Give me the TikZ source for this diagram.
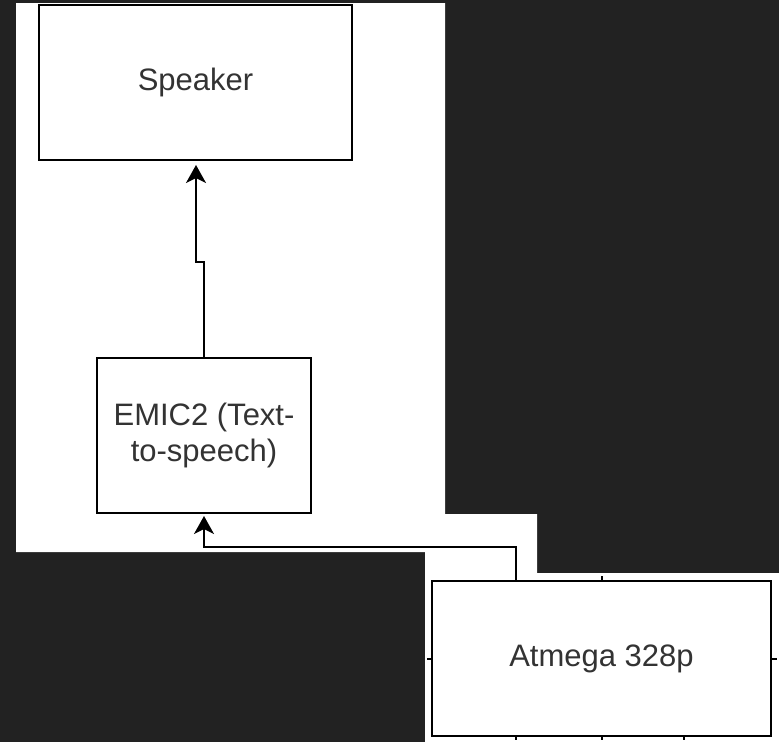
\documentclass[tikz,border=0pt]{standalone}
\usepackage{fontspec}
\setmainfont{Liberation Sans}
\usetikzlibrary{arrows.meta}
\definecolor{bgdark}{HTML}{222222}
\definecolor{txtgray}{HTML}{333333}
\begin{document}
\begin{tikzpicture}[x=1pt,y=-1pt,
  blockbox/.style={draw=black, line width=2pt, fill=white, inner sep=0pt, outer sep=0pt,
    minimum height=155pt, align=center, text=txtgray,
    font=\fontsize{31}{36}\selectfont},
  conn/.style={draw=black, line width=2pt, -{Stealth[length=18pt,width=20pt,inset=5pt]}},
  stub/.style={draw=black, line width=2pt}]
\useasboundingbox (0,0) rectangle (779,742);
\fill[bgdark] (0,0) rectangle (779,742);
\fill[white] (16,3) -- (445,3) -- (445,514) -- (537,514) -- (537,573) -- (779,573)
  -- (779,742) -- (425,742) -- (425,552) -- (16,552) -- cycle;
\node[blockbox, minimum width=313pt] (spk) at (195.5,82.5) {Speaker};
\node[blockbox, minimum width=214pt] (emic) at (204,435.5) {EMIC2 (Text-\\to-speech)};
\node[blockbox, minimum width=339pt] (atm) at (601.5,658.5) {Atmega 328p};
\coordinate (j1) at (196,262);
\draw[conn, shorten >=5pt] (emic.north) |- (j1) -- (j1 |- spk.south);
\coordinate (s1) at ([xshift=84pt]atm.north west);
\coordinate (h1) at (204,547);
\draw[conn, shorten >=3pt] (s1) |- (h1) -- (emic.south);
\draw[stub] (atm.north) -- ++(0,-5);
\draw[stub] (atm.west) -- ++(-5,0);
\draw[stub] (atm.east) -- ++(6,0);
\draw[stub] ([xshift=84pt]atm.south west) -- ++(0,4);
\draw[stub] (atm.south) -- ++(0,4);
\draw[stub] ([xshift=-87pt]atm.south east) -- ++(0,4);
\end{tikzpicture}
\end{document}
